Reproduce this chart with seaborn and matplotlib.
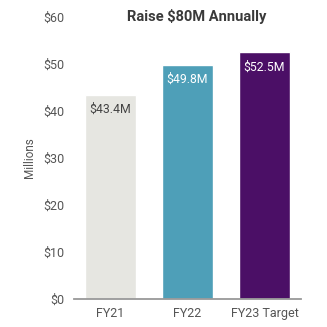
import matplotlib
matplotlib.use("Agg")
import matplotlib.pyplot as plt
import seaborn as sns
import pandas as pd

categories = ["FY21", "FY22", "FY23 Target"]
values = [43.4, 49.8, 52.5]
value_labels = ["$43.4M", "$49.8M", "$52.5M"]
bar_colors = ["#E6E6E1", "#4E9FB8", "#4B0F66"]
label_colors = ["#444444", "#FFFFFF", "#FFFFFF"]
y_ticks = [0, 10, 20, 30, 40, 50, 60]
y_tick_labels = ["$0", "$10", "$20", "$30", "$40", "$50", "$60"]

sns.set_theme(style="white")
plt.rcParams["font.family"] = ["Roboto", "DejaVu Sans"]

df = pd.DataFrame({"year": categories, "amount": values})

fig = plt.figure(figsize=(3.27, 3.27), dpi=100)
ax = fig.add_axes([0.226, 0.0856, 0.694, 0.862])

sns.barplot(data=df, x="year", y="amount", hue="year", palette=bar_colors,
            legend=False, width=0.66, saturation=1, ax=ax)

ax.set_ylim(0, 60)
ax.set_xlim(-0.47, 2.47)
ax.set_yticks(y_ticks)
ax.set_yticklabels(y_tick_labels)
ax.set_xlabel("")
ax.set_ylabel("Millions", fontsize=8.5, color="#555555", labelpad=5)

ax.tick_params(axis="y", length=0, labelsize=9, labelcolor="#555555", pad=7)
ax.tick_params(axis="x", length=0, labelsize=9, labelcolor="#555555", pad=6)

for side in ["top", "right", "left"]:
    ax.spines[side].set_visible(False)
ax.spines["bottom"].set_color("#999999")
ax.spines["bottom"].set_linewidth(1.3)

for patch, text, color in zip(ax.patches, value_labels, label_colors):
    x = patch.get_x() + patch.get_width() / 2
    top = patch.get_height()
    ax.annotate(text, xy=(x, top), xytext=(0, -10.5), textcoords="offset points",
                ha="center", va="center", fontsize=8.8, color=color)

fig.text(0.603, 0.951, "Raise $80M Annually", ha="center", va="center",
         fontsize=10.5, fontweight="bold", color="#3A3A3A")

fig.savefig("out.png", dpi=100)
